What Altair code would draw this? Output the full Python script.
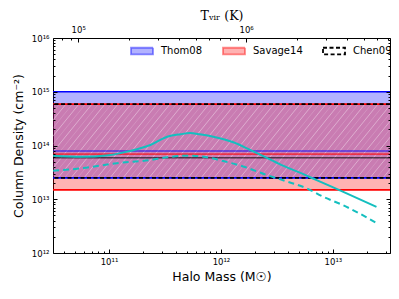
import altair as alt
import pandas as pd

# ---------------- data ----------------
series = ["Thom08", "Savage14", "Chen09"]
band_hi = [1.0e15, 5.9e14, 5.9e14]
band_lo = [2.5e13, 1.5e13, 2.5e13]
band_med = [7.9e13, 6.9e13, 5.9e13]

solid_mass = [3.17e10, 5.62e10, 1.0e11, 1.55e11, 2.34e11, 3.31e11, 4.37e11, 5.25e11, 6.46e11,
              9.12e11, 1.29e12, 1.82e12, 2.57e12, 3.63e12, 5.13e12, 7.24e12, 1.17e13, 2.45e13]
solid_N = [6.46e13, 6.17e13, 6.61e13, 7.94e13, 1.02e14, 1.45e14, 1.62e14, 1.70e14, 1.62e14,
           1.41e14, 1.15e14, 8.3e13, 5.9e13, 4.17e13, 3.09e13, 2.24e13, 1.45e13, 7.24e12]

dashed_mass = [3.17e10, 5.89e10, 1.17e11, 2.34e11, 3.31e11, 5.01e11, 6.46e11, 1.05e12, 1.58e12,
               2.57e12, 3.89e12, 5.89e12, 8.13e12, 1.23e13, 2.45e13]
dashed_N = [3.39e13, 3.80e13, 4.68e13, 5.37e13, 6.03e13, 6.46e13, 6.31e13, 5.13e13, 4.07e13,
            2.82e13, 2.14e13, 1.58e13, 1.12e13, 7.76e12, 3.63e12]

y_major = [1e12, 1e13, 1e14, 1e15, 1e16]
y_labels = ["10¹²", "10¹³", "10¹⁴", "10¹⁵", "10¹⁶"]
mass_major = [1e11, 1e12, 1e13]
mass_labels = ["10¹¹", "10¹²", "10¹³"]
T_major = [1e5, 1e6]
T_labels = ["10⁵", "10⁶"]

y_minor = [m * 10.0 ** e for e in range(12, 16) for m in range(2, 10)]
mass_minor = [m * 10.0 ** e for e in range(10, 14) for m in range(2, 10)]
mass_minor = [v for v in mass_minor if 3.2e10 < v < 3.2e13]
T_minor = [m * 10.0 ** e for e in range(4, 7) for m in range(2, 10)]
T_minor = [v for v in T_minor if 7.1e4 < v < 7.15e6]

# ---------------- style ----------------
W, H = 337, 215
FONT = "DejaVu Sans"
band_fill = ["rgba(0,0,255,0.3)", "rgba(255,0,0,0.3)", "rgba(0,0,0,0)"]
band_edge = ["#0000ff", "#ff0000", "#000000"]
legend_edge = ["rgba(0,0,255,0.45)", "rgba(255,0,0,0.45)", "#000000"]
band_dash = [[1, 0], [1, 0], [4, 2.5]]
CYAN = "#14bfbf"

yscale = alt.Scale(type="log", domain=[1e12, 1e16], nice=False)
mscale = alt.Scale(type="log", domain=[3.162e10, 3.236e13], nice=False)
tscale = alt.Scale(type="log", domain=[7.08e4, 7.19e6], nice=False)


def lab_expr(vals, labs):
    e = "''"
    for v, l in reversed(list(zip(vals, labs))):
        e = f"datum.value == {v!r} ? '{l}' : ({e})"
    return e


def axis(orient, values, size, labels=None, title="", **kw):
    opts = dict(orient=orient, values=values, tickSize=alt.ExprRef(expr=str(-size)),
                domain=False, grid=False, ticks=True, tickColor="black", tickWidth=1,
                zindex=2, title=title)
    if labels is None:
        opts["labels"] = False
    else:
        opts.update(labels=True, labelExpr=lab_expr(values, labels), labelFont=FONT,
                    labelFontSize=8.5, labelColor="black")
    opts.update(kw)
    return alt.Axis(**opts)


bands = pd.DataFrame({"series": series, "hi": band_hi, "lo": band_lo})
edges = pd.DataFrame({"series": series * 2, "y": band_hi + band_lo, "col": band_edge * 2})
meds = pd.DataFrame({"series": series, "med": band_med, "edge": band_edge})
solid = pd.DataFrame({"mass": solid_mass, "N": solid_N})
dashed = pd.DataFrame({"mass": dashed_mass, "N": dashed_N})
tmaj = pd.DataFrame({"T": T_major})
tmin = pd.DataFrame({"T": T_minor})

leg = alt.Legend(orient="none", legendX=77, legendY=1, direction="horizontal", title=None,
                 symbolType="M-1,-0.3H1V0.3H-1Z", symbolSize=484, symbolStrokeWidth=1.8,
                 labelFont=FONT, labelFontSize=10, labelColor="black", labelOffset=7,
                 columnPadding=16, padding=0)

fill_enc = alt.Fill("series:N", scale=alt.Scale(domain=series, range=band_fill), legend=leg)
stroke_enc = alt.Stroke("series:N", scale=alt.Scale(domain=series, range=legend_edge), legend=leg)
dash_enc = alt.StrokeDash("series:N", scale=alt.Scale(domain=series, range=band_dash), legend=leg)

band_layer = alt.Chart(bands).mark_rect(strokeWidth=0).encode(
    y=alt.Y("hi:Q", scale=yscale,
            axis=axis("left", y_major, 4, y_labels, title="Column Density (cm⁻²)",
                      labelPadding=8, titleFont=FONT, titleFontSize=12.5, titleFontWeight="normal",
                      titleColor="black", titleX=-35, titleY=H / 2, titleAngle=270,
                      titleAlign="center", titleBaseline="middle")),
    y2="lo:Q",
    fill=fill_enc,
    stroke=stroke_enc,
    strokeDash=dash_enc,
)

hatch = alt.Chart(alt.sequence(0, 72, as_="k")).transform_calculate(
    x0="datum.k * 6.5 - 60",
    x1="datum.k * 6.5",
    lo=str(band_lo[2]),
    hi=str(band_hi[2]),
    op="datum.k % 2 == 0 ? 0.42 : 0.18",
).mark_rule(clip=True, color="white", strokeWidth=0.9).encode(
    x=alt.X("x0:Q", scale=None),
    x2="x1:Q",
    y=alt.Y("lo:Q", scale=yscale, axis=axis("left", y_minor, 2)),
    y2="hi:Q",
    opacity=alt.Opacity("op:Q", scale=None),
)

edge_layer = alt.Chart(edges).mark_rule(strokeWidth=1.7).encode(
    y=alt.Y("y:Q", scale=yscale, axis=None),
    stroke=alt.Stroke("col:N", scale=None),
    strokeDash=dash_enc,
)

med_layer = alt.Chart(meds).mark_rule(strokeWidth=1.6, opacity=0.6).encode(
    y=alt.Y("med:Q", scale=yscale, axis=axis("right", y_major, 4)),
    stroke=alt.Stroke("edge:N", scale=None),
)

solid_layer = alt.Chart(solid).mark_line(color=CYAN, strokeWidth=2, clip=True,
                                         interpolate="monotone").encode(
    x=alt.X("mass:Q", scale=mscale,
            axis=axis("bottom", mass_major, 4, mass_labels, title="Halo Mass (M☉)",
                      labelPadding=8, titleFont=FONT, titleFontSize=12.5, titleFontWeight="normal",
                      titleColor="black", titleY=23, titleBaseline="middle")),
    y=alt.Y("N:Q", scale=yscale, axis=axis("right", y_minor, 2)),
)

dashed_layer = alt.Chart(dashed).mark_line(color=CYAN, strokeWidth=2, clip=True,
                                           strokeDash=[6, 4], interpolate="monotone").encode(
    x=alt.X("mass:Q", scale=mscale, axis=axis("bottom", mass_minor, 2)),
    y=alt.Y("N:Q", scale=yscale, axis=None),
)

t_major_layer = alt.Chart(tmaj).mark_point(opacity=0).encode(
    x=alt.X("T:Q", scale=tscale,
            axis=axis("top", T_major, 4, T_labels, title="Tᵥᵢᵣ (K)", labelPadding=8,
                      titleFont="DejaVu Serif", titleFontSize=12.5, titleFontWeight="normal",
                      titleColor="black", titleY=-23, titleBaseline="middle")),
)

t_minor_layer = alt.Chart(tmin).mark_point(opacity=0).encode(
    x=alt.X("T:Q", scale=tscale, axis=axis("top", T_minor, 2)),
)

chart = alt.layer(
    band_layer, hatch, edge_layer, med_layer, solid_layer, dashed_layer,
    t_major_layer, t_minor_layer
).resolve_scale(x="independent", y="shared").resolve_axis(
    x="independent", y="independent"
).properties(
    width=W, height=H,
    padding={"left": 45, "top": 30, "right": 1, "bottom": 29},
    autosize=alt.AutoSizeParams(type="none"),
).configure_view(stroke="black", strokeWidth=1)

chart.save("out.html", embed_options={"renderer": "svg", "actions": False})
